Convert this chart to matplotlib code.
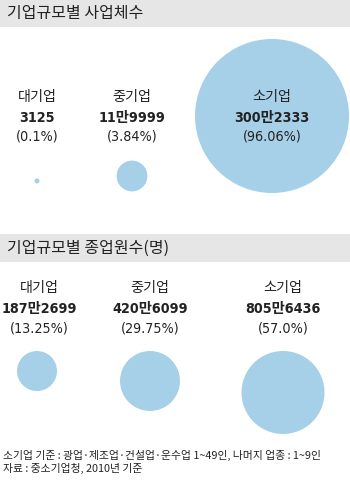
import matplotlib.pyplot as plt
from matplotlib.patches import Circle, Rectangle

plt.rcParams['font.family'] = ['Noto Sans CJK KR', 'DejaVu Sans']
narrow = ['DejaVu Sans', 'Noto Sans CJK KR']

sizes = ['대기업', '중기업', '소기업']

# 사업체수
firm_counts = ['3125', '11만9999', '300만2333']
firm_shares = [0.1, 3.84, 96.06]

# 종업원수
worker_counts = ['187만2699', '420만6099', '805만6436']
worker_shares = [13.25, 29.75, 57.0]

notes = ['소기업 기준 : 광업·제조업·건설업·운수업 1~49인, 나머지 업종 : 1~9인',
         '자료 : 중소기업청, 2010년 기준']

bubble_color = '#a6cfe8'
band_color = '#e6e6e6'
text_color = '#222222'

fig = plt.figure(figsize=(3.5, 4.8), dpi=100)
ax = fig.add_axes([0, 0, 1, 1])
ax.set_xlim(0, 350)
ax.set_ylim(480, 0)
ax.set_aspect('equal')
ax.axis('off')


def header(y0, h, title):
    ax.add_patch(Rectangle((0, y0), 350, h, facecolor=band_color, edgecolor='none'))
    ax.text(7, y0 + h / 2, title, fontsize=11.5, color=text_color,
            ha='left', va='center')


def labels(xs, y, counts, shares):
    for x, name, cnt, pct in zip(xs, sizes, counts, shares):
        ax.text(x, y, name, fontsize=10.2, color=text_color, ha='center', va='center')
        ax.text(x, y + 21, cnt, fontsize=10.3, color=text_color, ha='center',
                va='center', family=narrow, fontweight='bold', fontstretch='condensed')
        ax.text(x, y + 40, f'({pct}%)', fontsize=10.3, color=text_color,
                ha='center', va='center', family=narrow, fontstretch='condensed')


# top block: bubble area proportional to share
header(0, 27, '기업규모별 사업체수')
k1 = 77 / max(firm_shares) ** 0.5
top_x = [37, 132, 272]
top_y = [181, 176, 116]
for x, y, s in zip(top_x, top_y, firm_shares):
    ax.add_patch(Circle((x, y), k1 * s ** 0.5, facecolor=bubble_color, edgecolor='none'))
labels(top_x, 97, firm_counts, firm_shares)

# bottom block: bubbles hang from a common top line
header(234, 28, '기업규모별 종업원수(명)')
k2 = 41.5 / max(worker_shares) ** 0.5
bot_x = [37, 150, 283]
top_line = 351
for x, s in zip(bot_x, worker_shares):
    r = k2 * s ** 0.5
    ax.add_patch(Circle((x, top_line + r), r, facecolor=bubble_color, edgecolor='none'))
labels([39, 150, 283], 288, worker_counts, worker_shares)

for i, line in enumerate(notes):
    ax.text(3, 455 + i * 13, line, fontsize=7.8, color=text_color,
            ha='left', va='center')

fig.savefig('out.png', dpi=100)
